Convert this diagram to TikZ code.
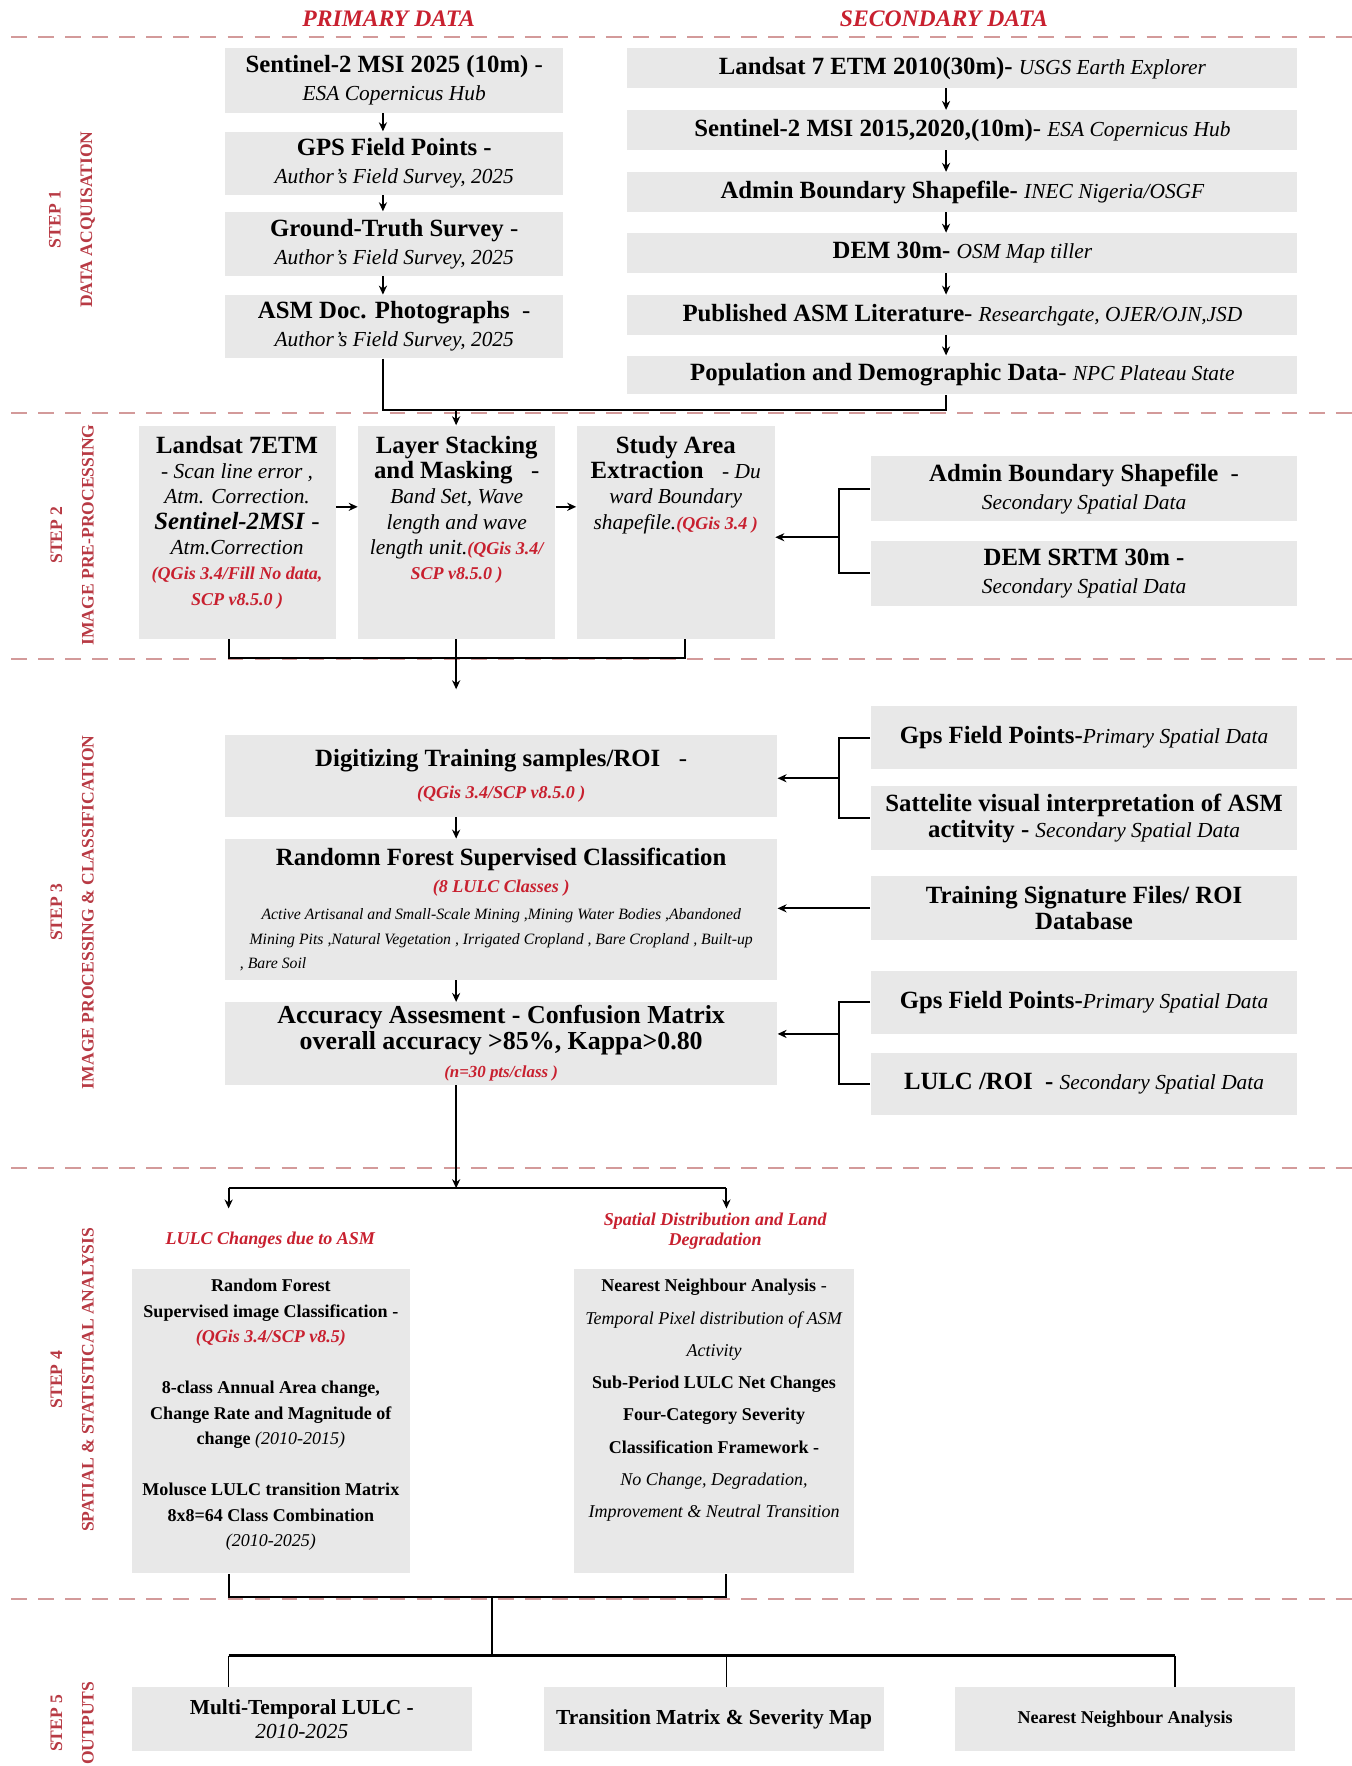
\documentclass[tikz,border=0pt]{standalone}
\usepackage{fontspec}
\setmainfont{Liberation Serif}
\usetikzlibrary{arrows.meta}
\definecolor{boxgray}{HTML}{E8E8E8}
\definecolor{redtxt}{HTML}{C8202F}
\definecolor{dashred}{HTML}{D39A9A}
\definecolor{steplbl}{HTML}{B83A44}
\newcommand\fsz[2]{\fontsize{#1}{#2}\selectfont}
\newcommand\rdt[1]{\textcolor{redtxt}{\bfseries\itshape #1}}
\begin{document}
\begin{tikzpicture}[x=0.5pt,y=-0.5pt,
  box/.style={fill=boxgray, inner sep=0pt, align=center, anchor=center},
  gb/.style n args={4}{minimum width={(#3-#1)*0.5pt}, minimum height={(#4-#2)*0.5pt}, at={({(#1+#3)/2},{(#2+#4)/2})}},
  conn/.style={line width=0.9pt, black},
  arr/.style={conn, -{Stealth[length=4pt,width=3.6pt]}},
  sepline/.style={draw=dashred, line width=1pt, dash pattern=on 7pt off 5pt},
  steplab/.style={text=steplbl, font=\fsz{7.8}{14}\bfseries, align=center, rotate=90, inner sep=0pt},
  hdr/.style={text=redtxt, font=\fsz{10.5}{12}\bfseries\itshape},
  toptext/.style={anchor=north, align=center, inner sep=0pt},
]
\useasboundingbox (0,0) rectangle (1200,1568);
\fill[white] (0,0) rectangle (1200,1568);

% separators
\foreach \yy in {33,367,585,1037,1420} \draw[sepline] (10,\yy) -- (1200,\yy);

% headers
\node[hdr] (hp) at (345,17) {PRIMARY DATA};
\node[hdr] (hs) at (838,17) {SECONDARY DATA};

% step labels
\node[steplab] (st1) at (64,195) {STEP 1\\DATA ACQUISATION};
\node[steplab] (st2) at (64,475) {STEP 2\\IMAGE PRE-PROCESSING};
\node[steplab] (st3) at (64,810) {STEP 3\\IMAGE PROCESSING \& CLASSIFICATION};
\node[steplab] (st4) at (64,1225) {STEP 4\\SPATIAL \& STATISTICAL ANALYSIS};
\node[steplab] (st5) at (64,1530) {STEP 5\\OUTPUTS};

% ---------- STEP 1 primary
\node[box, gb={200}{43}{500}{100}, font=\fsz{11}{12.5}] (p1) {\textbf{Sentinel-2 MSI 2025 (10m)} -\\ {\fsz{9.5}{11}\itshape ESA Copernicus Hub}};
\node[box, gb={200}{117}{500}{173}, font=\fsz{11}{12.5}] (p2) {\textbf{GPS Field Points -}\\ {\fsz{9.5}{11}\itshape Author's Field Survey, 2025}};
\node[box, gb={200}{188}{500}{245}, font=\fsz{11}{12.5}] (p3) {\textbf{Ground-Truth Survey} -\\ {\fsz{9.5}{11}\itshape Author's Field Survey, 2025}};
\node[box, gb={200}{262}{500}{318}, font=\fsz{11}{12.5}] (p4) {\textbf{ASM Doc. Photographs}\ \ -\\ {\fsz{9.5}{11}\itshape Author's Field Survey, 2025}};

% ---------- STEP 1 secondary
\node[box, gb={557}{43}{1152}{78}, font=\fsz{11}{12.5}] (r1) {\textbf{Landsat 7 ETM 2010(30m)-} {\fsz{9.5}{11}\itshape USGS Earth Explorer}};
\node[box, gb={557}{98}{1152}{133}, font=\fsz{11}{12.5}] (r2) {\textbf{Sentinel-2 MSI 2015,2020,(10m)}- {\fsz{9.5}{11}\itshape ESA Copernicus Hub}};
\node[box, gb={557}{153}{1152}{188}, font=\fsz{11}{12.5}] (r3) {\textbf{Admin Boundary Shapefile-} {\fsz{9.5}{11}\itshape INEC Nigeria/OSGF}};
\node[box, gb={557}{207}{1152}{242}, font=\fsz{11}{12.5}] (r4) {\textbf{DEM 30m-} {\fsz{9.5}{11}\itshape OSM Map tiller}};
\node[box, gb={557}{262}{1152}{297}, font=\fsz{11}{12.5}] (r5) {\textbf{Published ASM Literature}- {\fsz{9.5}{11}\itshape Researchgate, OJER/OJN,JSD}};
\node[box, gb={557}{316}{1152}{350}, font=\fsz{11}{12.5}] (r6) {\textbf{Population and Demographic Data}- {\fsz{9.5}{11}\itshape NPC Plateau State}};

\coordinate (lx) at (340,0);
\coordinate (rx) at (840,0);
\draw[arr] (p1.south -| lx) -- (p2.north -| lx);
\draw[arr] (p2.south -| lx) -- (p3.north -| lx);
\draw[arr] (p3.south -| lx) -- (p4.north -| lx);
\draw[arr] (r1.south -| rx) -- (r2.north -| rx);
\draw[arr] (r2.south -| rx) -- (r3.north -| rx);
\draw[arr] (r3.south -| rx) -- (r4.north -| rx);
\draw[arr] (r4.south -| rx) -- (r5.north -| rx);
\draw[arr] (r5.south -| rx) -- (r6.north -| rx);

% ---------- STEP 2
\node[box, gb={123}{378}{298}{567}] (s2a) {};
\node[toptext, font=\fsz{11}{11.25}] (s2at) at ([yshift=-4.5pt]s2a.north) {\textbf{Landsat 7ETM}\\
 {\fsz{9.5}{11}\itshape - Scan line error ,}\\
 {\fsz{9.5}{11}\itshape Atm. Correction.}\\
 \textbf{\textit{Sentinel-2MSI}} -\\
 {\fsz{9.5}{11}\itshape Atm.Correction}\\
 {\fsz{8}{9}\rdt{(QGis 3.4/Fill No data,}}\\
 {\fsz{8}{9}\rdt{SCP v8.5.0 )}}};
\node[box, gb={318}{378}{493}{567}] (s2b) {};
\node[toptext, font=\fsz{11}{11.25}] (s2bt) at ([yshift=-4.5pt]s2b.north) {\textbf{Layer Stacking}\\
 \textbf{and Masking}\ \ \ -\\
 {\fsz{9.5}{11}\itshape Band Set, Wave}\\
 {\fsz{9.5}{11}\itshape length and wave}\\
 {\fsz{9.5}{11}\itshape length unit.}{\fsz{8}{9}\rdt{(QGis 3.4/}}\\
 {\fsz{8}{9}\rdt{SCP v8.5.0 )}}};
\node[box, gb={512}{378}{688}{567}] (s2c) {};
\node[toptext, font=\fsz{11}{11.25}] (s2ct) at ([yshift=-4.5pt]s2c.north) {\textbf{Study Area}\\
 \textbf{Extraction}\ \ \ {\fsz{9.5}{11}\itshape - Du}\\
 {\fsz{9.5}{11}\itshape ward Boundary}\\
 {\fsz{9.5}{11}\itshape shapefile.}{\fsz{8}{9}\rdt{(QGis 3.4 )}}};
\node[box, gb={773}{405}{1152}{463}, font=\fsz{11}{12.5}] (s2d) {\textbf{Admin Boundary Shapefile}\ \ -\\ {\fsz{9.5}{11}\itshape Secondary Spatial Data}};
\node[box, gb={773}{480}{1152}{538}, font=\fsz{11}{12.5}] (s2e) {\textbf{DEM SRTM 30m -}\\ {\fsz{9.5}{11}\itshape Secondary Spatial Data}};

% step1 -> step2
\coordinate (j1) at (405,364);
\draw[conn] (p4.south -| lx) |- (j1) -| (r6.south -| rx);
\draw[arr] (j1) -- (s2b.north -| j1);

\coordinate (ay) at (0,450);
\draw[arr] (s2a.east |- ay) -- (s2b.west |- ay);
\draw[arr] (s2b.east |- ay) -- (s2c.west |- ay);
\coordinate (b2) at (745,477);
\draw[conn] (s2d.west) -| (b2) |- (s2e.west);
\draw[arr] (b2) -- (s2c.east |- b2);

\coordinate (q1) at (203,0);
\coordinate (q3) at (608,0);
\coordinate (j2) at (405,584);
\coordinate (j2e) at (405,612);
\draw[conn] (s2a.south -| q1) |- (j2) -| (s2c.south -| q3);
\draw[conn] (s2b.south -| j2) -- (j2);
\draw[arr] (j2) -- (j2e);

% ---------- STEP 3
\node[box, gb={200}{653}{690}{725}, font=\fsz{11}{13}] (s3a) {\textbf{Digitizing Training samples/ROI}\ \ \ -\\[1pt] {\fsz{8}{9}\rdt{(QGis 3.4/SCP v8.5.0 )}}};
\node[box, gb={200}{745}{690}{870}, font=\fsz{11}{11}] (s3b) {\textbf{Randomn Forest Supervised Classification}\\[1pt]
 {\fsz{8}{9}\rdt{(8 LULC Classes )}}\\[1pt]
 {\fsz{7}{8}\itshape \makebox[232pt][c]{Active Artisanal and Small-Scale Mining ,Mining Water Bodies ,Abandoned}}\\
 {\fsz{7}{8}\itshape \makebox[232pt][c]{Mining Pits ,Natural Vegetation , Irrigated Cropland , Bare Cropland , Built-up}}\\
 {\fsz{7}{8}\itshape \makebox[232pt][l]{, Bare Soil}}};
\node[box, gb={200}{890}{690}{963}, font=\fsz{11.5}{11.5}] (s3c) {\textbf{Accuracy Assesment - Confusion Matrix}\\
 \textbf{overall accuracy >85\%, Kappa>0.80}\\[1pt]
 {\fsz{7.5}{9}\rdt{(n=30 pts/class )}}};

\node[box, gb={773}{627}{1152}{683}, font=\fsz{11}{12.5}] (g1) {\textbf{Gps Field Points-}{\fsz{9.5}{11}\itshape Primary Spatial Data}};
\node[box, gb={773}{698}{1152}{755}, font=\fsz{11}{11.5}] (g2) {\textbf{Sattelite visual interpretation of ASM}\\ \textbf{actitvity -} {\fsz{9.5}{11}\itshape Secondary Spatial Data}};
\node[box, gb={773}{778}{1152}{835}, font=\fsz{11}{11.5}] (g3) {\textbf{Training Signature Files/ ROI}\\ \textbf{Database}};
\node[box, gb={773}{862}{1152}{918}, font=\fsz{11}{12.5}] (g4) {\textbf{Gps Field Points-}{\fsz{9.5}{11}\itshape Primary Spatial Data}};
\node[box, gb={773}{935}{1152}{990}, font=\fsz{11}{12.5}] (g5) {\textbf{LULC /ROI}\ \ \textbf{-} {\fsz{9.5}{11}\itshape Secondary Spatial Data}};

\coordinate (mx) at (405,0);
\draw[arr] (s3a.south -| mx) -- (s3b.north -| mx);
\draw[arr] (s3b.south -| mx) -- (s3c.north -| mx);
\coordinate (b3) at (745,691);
\draw[conn] (g1.west) -| (b3) |- (g2.west);
\draw[arr] (b3) -- (s3a.east |- b3);
\draw[arr] (g3.west) -- (s3b.east |- g3.west);
\coordinate (b4) at (745,918);
\draw[conn] (g4.west) -| (b4) |- (g5.west);
\draw[arr] (b4) -- (s3c.east |- b4);

% ---------- STEP 4
\coordinate (k) at (405,1055);
\coordinate (kl) at (203,1055);
\coordinate (kr) at (645,1055);
\coordinate (kle) at (203,1073);
\coordinate (kre) at (645,1073);
\draw[arr] (s3c.south -| k) -- (k);
\draw[conn] (kl) -- (kr);
\draw[arr] (kl) -- (kle);
\draw[arr] (kr) -- (kre);

\node[font=\fsz{8}{9.5}\bfseries\itshape, text=redtxt] (l4a) at (240,1101) {LULC Changes due to ASM};
\node[font=\fsz{8}{9}\bfseries\itshape, text=redtxt, align=center] (l4b) at (635,1093) {Spatial Distribution and Land\\Degradation};

\node[box, gb={117}{1127}{364}{1397}] (s4a) {};
\node[toptext, font=\fsz{8}{11.3}\bfseries] (s4at) at ([yshift=-4.5pt]s4a.north) {Random Forest\\
 Supervised image Classification -\\
 \rdt{(QGis 3.4/SCP v8.5)}\\[11.3pt]
 8-class Annual Area change,\\
 Change Rate and Magnitude of\\
 change {\mdseries\itshape (2010-2015)}\\[11.3pt]
 Molusce LULC transition Matrix\\
 8x8=64 Class Combination\\
 {\mdseries\itshape (2010-2025)}};
\node[box, gb={510}{1127}{758}{1397}] (s4b) {};
\node[toptext, font=\fsz{8}{14.3}] (s4bt) at ([yshift=-4.5pt]s4b.north) {\textbf{Nearest Neighbour Analysis} -\\
 \textit{Temporal Pixel distribution of ASM}\\
 \textit{Activity}\\
 \textbf{Sub-Period LULC Net Changes}\\
 \textbf{Four-Category Severity}\\
 \textbf{Classification Framework -}\\
 \textit{No Change, Degradation,}\\
 \textit{Improvement \& Neutral Transition}};

% ---------- STEP 5
\node[box, gb={117}{1498}{419}{1555}, font=\fsz{9.5}{11}] (o1) {\textbf{Multi-Temporal LULC -}\\ \textit{2010-2025}};
\node[box, gb={483}{1498}{785}{1555}, font=\fsz{9.5}{11}] (o2) {\textbf{Transition Matrix \& Severity Map}};
\node[box, gb={848}{1498}{1150}{1555}, font=\fsz{8}{10}] (o3) {\textbf{Nearest Neighbour Analysis}};

\coordinate (m1) at (437,1418);
\coordinate (m2) at (437,1470);
\coordinate (h1) at (203,1470);
\coordinate (h2) at (645,1470);
\coordinate (h3) at (1043,1470);
\draw[conn] (s4a.south -| kl) |- (m1) -| (s4b.south -| kr);
\draw[conn] (m1) -- (m2);
\draw[conn, line width=1.2pt] (h1) -- (h3);
\draw[conn, line width=0.7pt] (h1) -- (o1.north -| h1);
\draw[conn, line width=0.7pt] (h2) -- (o2.north -| h2);
\draw[conn, line width=0.7pt] (h3) -- (o3.north -| h3);
\end{tikzpicture}
\end{document}
